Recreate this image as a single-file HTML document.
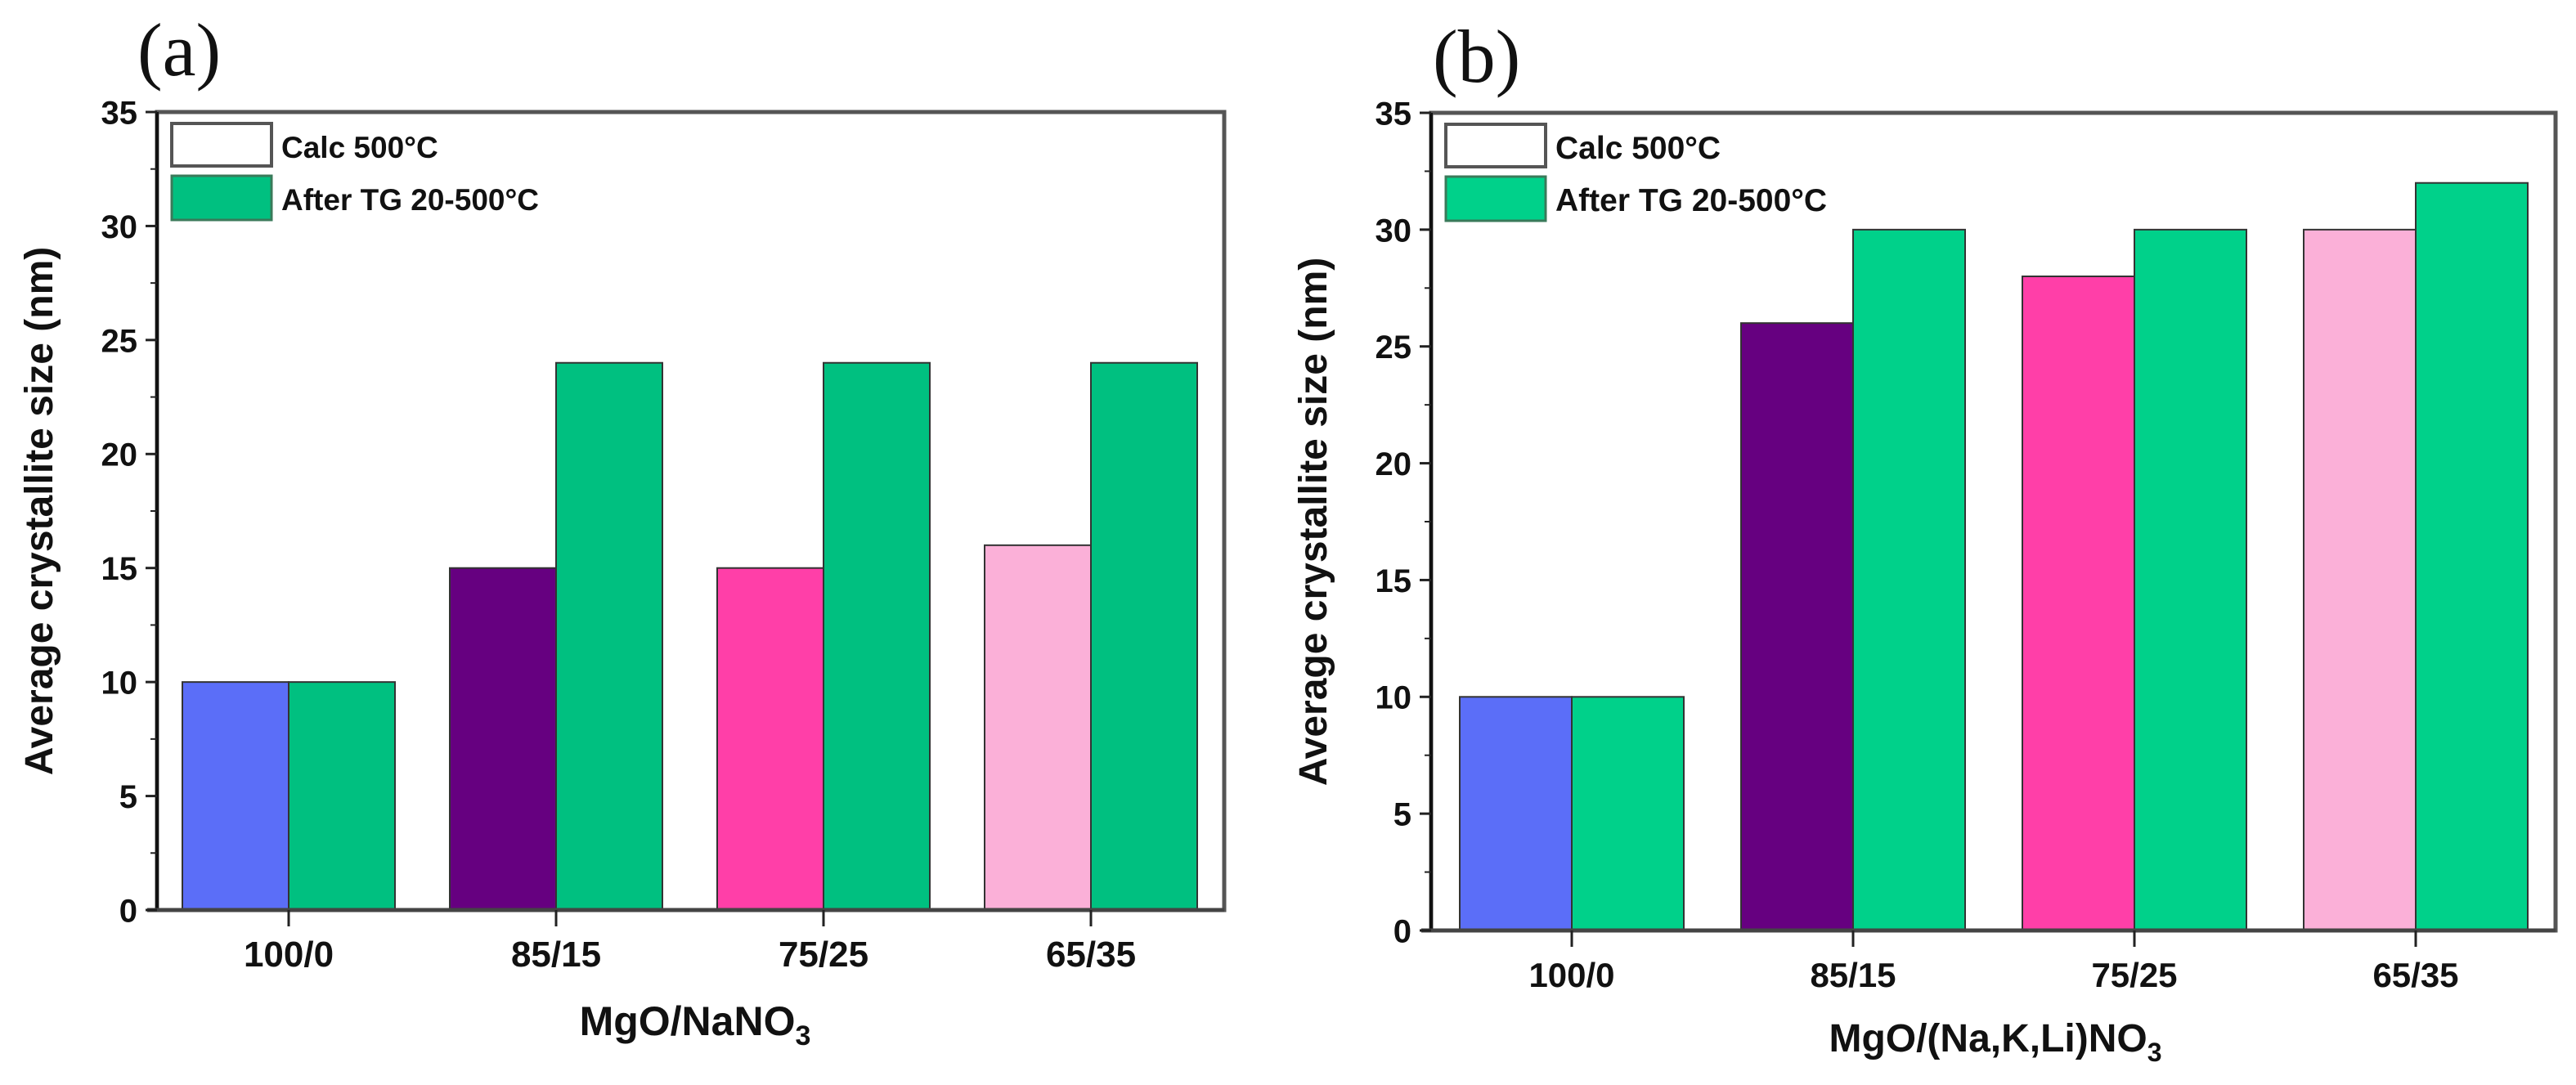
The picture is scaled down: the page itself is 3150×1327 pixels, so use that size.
<!DOCTYPE html>
<html><head><meta charset="utf-8">
<style>
html,body{margin:0;padding:0;background:#fff;}
svg{display:block;}
text{font-family:"Liberation Sans",Arial,sans-serif;font-weight:bold;fill:#111;}
.serif{font-family:"Liberation Serif",serif;font-weight:normal;}
</style></head>
<body>
<svg id="fig" width="3150" height="1327" viewBox="0 0 3150 1327" xmlns="http://www.w3.org/2000/svg"></svg>
<script>
const categories = ["100/0","85/15","75/25","65/35"];
const calcA = [10,15,15,16];
const afterA = [10,24,24,24];
const calcB = [10,26,28,30];
const afterB = [10,30,30,32];
const yTicks = [0,5,10,15,20,25,30,35];
const calcColors = ["#5b6ef8","#660080","#ff3fa8","#fbb0d8"];

const NS="http://www.w3.org/2000/svg";
const svg=document.getElementById('fig');
function mk(tag,attrs,parent){const e=document.createElementNS(NS,tag);for(const k in attrs)e.setAttribute(k,attrs[k]);(parent||svg).appendChild(e);return e;}

function panel(cfg){
  const g=mk('g',{});
  
  
  const y=v=>cfg.y0-(v/35)*(cfg.y0-cfg.top);
  const xc=i=>cfg.x0c+i*cfg.step;
  categories.forEach((c,i)=>{
    const b1=mk('rect',{x:xc(i)-cfg.bw,y:y(cfg.calc[i]),width:cfg.bw,height:cfg.y0-y(cfg.calc[i]),fill:calcColors[i],stroke:'#333','stroke-width':2},g);
    
    
    const b2=mk('rect',{x:xc(i),y:y(cfg.after[i]),width:cfg.bw,height:cfg.y0-y(cfg.after[i]),fill:cfg.green,stroke:'#333','stroke-width':2},g);
    
    
  });
  const fr=mk('rect',{x:cfg.left,y:cfg.top,width:cfg.right-cfg.left,height:cfg.y0-cfg.top,fill:'none',stroke:'#555','stroke-width':5},g);
  
  
  mk('line',{x1:cfg.left,y1:cfg.top,x2:cfg.left,y2:cfg.y0,stroke:'#111','stroke-width':4},g);
  mk('line',{x1:cfg.left-12,y1:cfg.y0,x2:cfg.right,y2:cfg.y0,stroke:'#444','stroke-width':5},g);
  yTicks.forEach((t,k)=>{
    mk('line',{x1:cfg.left-14,y1:y(t),x2:cfg.left,y2:y(t),stroke:'#222','stroke-width':3},g);
    if(k<yTicks.length-1) mk('line',{x1:cfg.left-8,y1:y(t+2.5),x2:cfg.left,y2:y(t+2.5),stroke:'#222','stroke-width':2},g);
    const tx=mk('text',{x:cfg.left-24,y:y(t)+cfg.yFs*0.36,'text-anchor':'end','font-size':cfg.yFs},g);
    tx.textContent=t;
    
    
  });
  categories.forEach((c,i)=>{
    mk('line',{x1:xc(i),y1:cfg.y0,x2:xc(i),y2:cfg.y0+20,stroke:'#222','stroke-width':3},g);
    const tx=mk('text',{x:xc(i),y:cfg.xlabY,'text-anchor':'middle','font-size':cfg.xFs},g);
    tx.textContent=c;
    
    
  });
  const xt=mk('text',{x:cfg.xtX,y:cfg.xtY,'text-anchor':'middle','font-size':cfg.titleFs},g);
  xt.innerHTML=cfg.xTitle;
  
  
  const cy=(cfg.top+cfg.y0)/2;
  const yt=mk('text',{x:0,y:0,'text-anchor':'middle','font-size':48,transform:`translate(${cfg.ytX},${cy}) rotate(-90)`},g);
  yt.textContent='Average crystallite size (nm)';
  
  
  const pl=mk('text',{x:cfg.plX,y:cfg.plY,'font-size':92,'class':'serif'},g);
  pl.textContent=cfg.label;
  
  
  const lx=cfg.left+18;
  const s1=mk('rect',{x:lx,y:cfg.top+14,width:122,height:52,fill:'#fff',stroke:'#555','stroke-width':4},g);
  
  
  const s2=mk('rect',{x:lx,y:cfg.top+78,width:122,height:54,fill:cfg.green,stroke:'#3a7a5a','stroke-width':3},g);
  
  
  const tx1=cfg.left+152;
  const l1=mk('text',{x:tx1,y:cfg.top+56,'font-size':cfg.legFs},g);
  l1.textContent='Calc 500°C';
  
  
  const l2=mk('text',{x:tx1,y:cfg.top+120,'font-size':cfg.legFs},g);
  l2.textContent='After TG 20-500°C';
  
  
}

panel({id:'a',label:'(a)',calc:calcA,after:afterA,green:'#00c080',left:192,right:1497,top:137,y0:1113,
  x0c:353,step:327,bw:130,yFs:40,xFs:44,titleFs:50,legFs:37,xlabY:1182,xtX:850,xtY:1266,ytX:64,plX:168,plY:92,
  xTitle:'MgO/NaNO<tspan font-size="34" dy="12">3</tspan>'});
panel({id:'b',label:'(b)',calc:calcB,after:afterB,green:'#00d18a',left:1750,right:3125,top:138,y0:1138,
  x0c:1922,step:344,bw:137,yFs:40,xFs:42,titleFs:48,legFs:39,xlabY:1207,xtX:2440,xtY:1286,ytX:1622,plX:1752,plY:100,
  xTitle:'MgO/(Na,K,Li)NO<tspan font-size="32" dy="12">3</tspan>'});
</script>
</body></html>
